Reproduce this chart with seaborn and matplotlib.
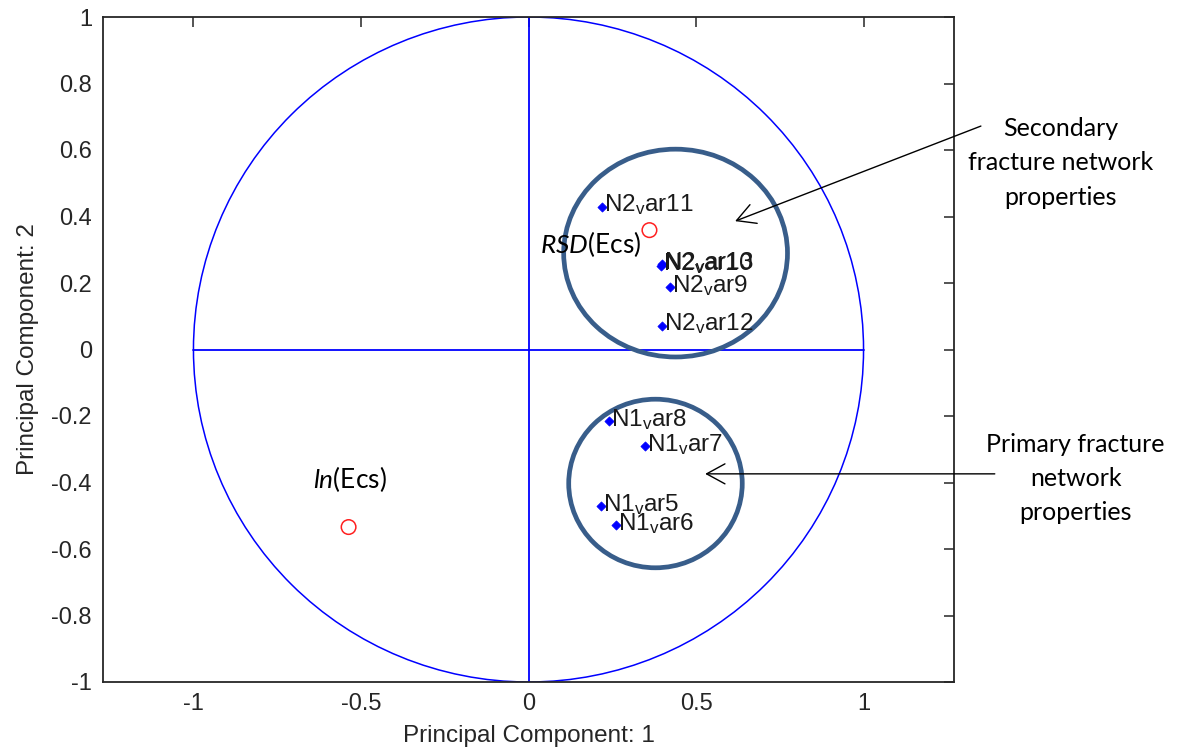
import numpy as np
import pandas as pd
import matplotlib
matplotlib.use("Agg")
import matplotlib.pyplot as plt
from matplotlib.patches import Circle, Ellipse
import seaborn as sns

# Variable loadings on the first two principal components
var_names = ["N1_var5", "N1_var6", "N1_var7", "N1_var8",
             "N2_var9", "N2_var10", "N2_var11", "N2_var12", "N2_var13"]
var_pc1 = [0.215, 0.260, 0.349, 0.239, 0.421, 0.395, 0.218, 0.397, 0.397]
var_pc2 = [-0.471, -0.528, -0.290, -0.215, 0.188, 0.252, 0.429, 0.071, 0.257]

# Response variables projected onto the same plane
resp_names = ["RSD(Ecs)", "ln(Ecs)"]
resp_pc1 = [0.361, -0.537]
resp_pc2 = [0.359, -0.534]

x_ticks = [-1, -0.5, 0, 0.5, 1]
x_tick_labels = ["-1", "-0.5", "0", "0.5", "1"]
y_ticks = [-1, -0.8, -0.6, -0.4, -0.2, 0, 0.2, 0.4, 0.6, 0.8, 1]
y_tick_labels = ["-1", "-0.8", "-0.6", "-0.4", "-0.2", "0", "0.2", "0.4", "0.6", "0.8", "1"]

sns.set_theme(style="white")
plt.rcParams["font.family"] = ["Liberation Sans", "DejaVu Sans"]
plt.rcParams["mathtext.fontset"] = "custom"
plt.rcParams["mathtext.it"] = "Lato:italic"
plt.rcParams["mathtext.rm"] = "Lato"

AX_COL = "#262626"
BLUE = "#0000ff"

fig = plt.figure(figsize=(11.79, 7.52), dpi=100)
fig.patch.set_facecolor("white")
ax = fig.add_axes([103 / 1179, 1 - 682 / 752, (954 - 103) / 1179, (682 - 17) / 752])

# Unit circle and axes cross
ax.add_patch(Circle((0, 0), 1, fill=False, edgecolor=BLUE, linewidth=1.1, zorder=2))
ax.plot([-1, 1], [0, 0], color=BLUE, linewidth=1.3, zorder=2)
ax.plot([0, 0], [-1, 1], color=BLUE, linewidth=1.3, zorder=2)

var_df = pd.DataFrame({"name": var_names, "pc1": var_pc1, "pc2": var_pc2})
resp_df = pd.DataFrame({"name": resp_names, "pc1": resp_pc1, "pc2": resp_pc2})

sns.scatterplot(data=var_df, x="pc1", y="pc2", ax=ax, marker="D", s=22,
                color=BLUE, edgecolor=BLUE, linewidth=0.5, zorder=4, legend=False)
sns.scatterplot(data=resp_df, x="pc1", y="pc2", ax=ax, marker="o", s=110,
                facecolor="none", edgecolor="#ff2020", linewidth=1.1, zorder=4, legend=False)


def tex_label(name):
    # "N2_var11" -> N2 with a subscript v followed by "ar11"
    head, tail = name.split("_", 1)
    return head + r"$_{\mathregular{" + tail[0] + "}}$" + tail[1:]


for name, x, y in zip(var_names, var_pc1, var_pc2):
    ax.annotate(tex_label(name), (x, y), xytext=(2, -5), textcoords="offset pixels",
                ha="left", va="baseline", fontsize=17.5, color="#1a1a1a", zorder=5)

resp_labels = [r"$\mathit{RSD}$(Ecs)", r"$\mathit{ln}$(Ecs)"]
resp_offsets = [(-109, -23), (1, 39)]
resp_ha = ["left", "center"]
for lab, x, y, off, ha in zip(resp_labels, resp_pc1, resp_pc2, resp_offsets, resp_ha):
    ax.annotate(lab, (x, y), xytext=off, textcoords="offset pixels",
                ha=ha, va="baseline", fontsize=19, family="Lato", color="black", zorder=5)

# Group outlines
ell_col = "#385d8a"
ax.add_patch(Ellipse((0.439, 0.290), 0.668, 0.625, fill=False, edgecolor=ell_col,
                     linewidth=3.4, zorder=3, clip_on=False))
ax.add_patch(Ellipse((0.379, -0.403), 0.518, 0.507, fill=False, edgecolor=ell_col,
                     linewidth=3.4, zorder=3, clip_on=False))

# Group callouts
arrow_style = dict(arrowstyle="->,head_length=0.55,head_width=0.3",
                   color="black", lw=1.0, mutation_scale=24)
ax.annotate("", xy=(0.609, 0.383), xytext=(1.358, 0.675),
            arrowprops=arrow_style, annotation_clip=False)
ax.annotate("", xy=(0.519, -0.374), xytext=(1.40, -0.374),
            arrowprops=arrow_style, annotation_clip=False)
ax.text(1.588, 0.562, "Secondary\nfracture network\nproperties", ha="center", va="center",
        fontsize=18, family="Lato", linespacing=1.6, color="black", clip_on=False)
ax.text(1.633, -0.388, "Primary fracture\nnetwork\nproperties", ha="center", va="center",
        fontsize=18, family="Lato", linespacing=1.6, color="black", clip_on=False)

ax.set_xlim(-1.27, 1.27)
ax.set_ylim(-1, 1)
ax.set_xticks(x_ticks)
ax.set_xticklabels(x_tick_labels)
ax.set_yticks(y_ticks)
ax.set_yticklabels(y_tick_labels)
ax.tick_params(direction="in", length=7, width=1.1, color=AX_COL, labelcolor=AX_COL,
               labelsize=17, top=True, right=True, pad=8)
for sp in ax.spines.values():
    sp.set_color(AX_COL)
    sp.set_linewidth(1.3)
    sp.set_visible(True)
ax.set_xlabel("Principal Component: 1", fontsize=17.5, color=AX_COL, labelpad=7)
ax.set_ylabel("Principal Component: 2", fontsize=17.5, color=AX_COL, labelpad=9)
ax.grid(False)

fig.savefig("out.png", dpi=100, facecolor="white")
